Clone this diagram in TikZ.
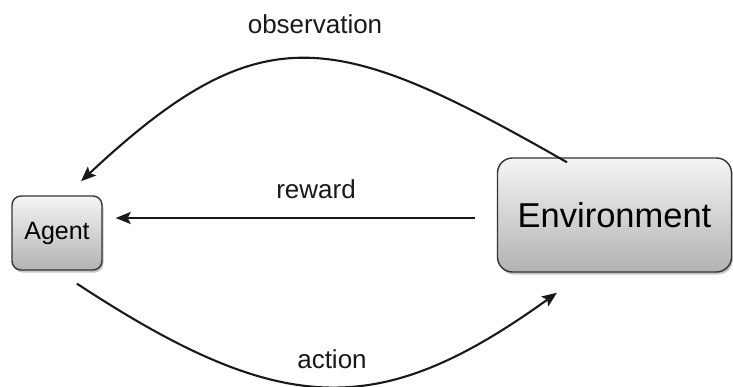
\documentclass[tikz,border=0pt]{standalone}
\usepackage{fontspec}
\setmainfont{Liberation Sans}
\usetikzlibrary{arrows.meta,shadows,calc}
\begin{document}
\begin{tikzpicture}[x=1pt,y=-1pt,
  boxstyle/.style={draw=black!80, line width=1.4pt, top color=gray!8, bottom color=gray!60,
    drop shadow={shadow xshift=1.5pt, shadow yshift=-2.5pt, opacity=0.45}, inner sep=0pt},
  conn/.style={line width=2.1pt, black!90, -{Stealth[length=15pt,width=12pt,inset=3pt]}},
  lbl/.style={font=\fontsize{26}{28}\selectfont, text=black!90}]
\useasboundingbox (0,0) rectangle (733,387);
\node[boxstyle, rounded corners=9pt, minimum width=90pt, minimum height=74pt,
  font=\fontsize{25}{27}\selectfont] (agent) at (57,233) {Agent};
\node[boxstyle, rounded corners=15pt, minimum width=234pt, minimum height=114pt,
  font=\fontsize{34.5}{36}\selectfont] (env) at (614.5,215) {Environment};
\node[lbl] (obs) at (315,24) {observation};
\node[lbl] (rew) at (316,189) {reward};
\node[lbl] (act) at (332,359) {action};
% observation
\draw[conn] ($(env.north)+(-47.5,5)$) .. controls (335,30) and (262,12) .. ($(agent.north)+(24,-14)$);
% reward
\draw[conn] ($(env.west)+(-22,3)$) -- ($(agent.east)+(13,-15)$);
% action
\draw[conn] ($(agent.south)+(20,13)$) .. controls (283,419) and (380,420) .. ($(env.south)+(-57.5,20)$);
\end{tikzpicture}
\end{document}
